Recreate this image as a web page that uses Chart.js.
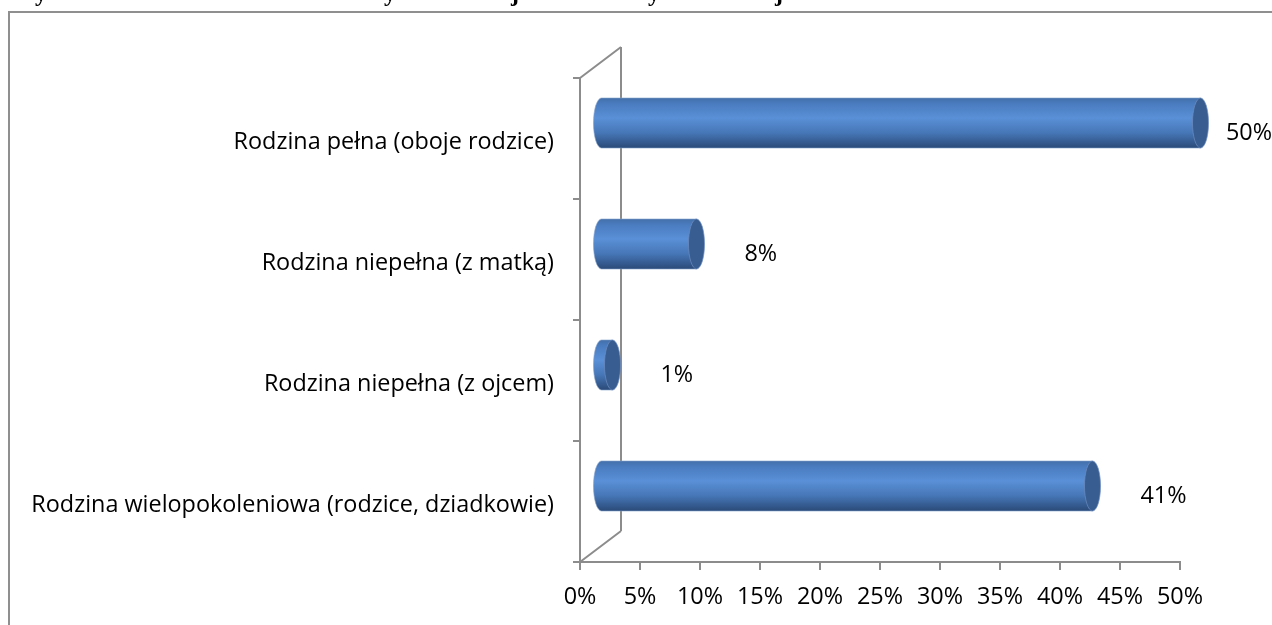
<!DOCTYPE html>
<html>
<head>
<meta charset="utf-8">
<script src="https://cdn.jsdelivr.net/npm/chart.js@4"></script>
<style>
	html, body { margin: 0; padding: 0; background: #fff; overflow: hidden; }
	#wrap { position: relative; width: 1272px; height: 625px; }
	#frame { position: absolute; left: 8px; top: 11px; width: 1300px; height: 700px;
		border-left: 2px solid #8f8f8f; border-top: 2px solid #8f8f8f; pointer-events: none; }
	#cutTitle { position: absolute; left: 0; top: 0; width: 1272px; height: 7px; overflow: hidden; }
	#cutTitle span { position: absolute; top: -20px; font: bold 24px "Liberation Serif", serif; color: #000; }
</style>
</head>
<body>
<div id="wrap">
	<div id="cutTitle">
		<span style="left:35px">y</span>
		<span style="left:384px">y</span>
		<span style="left:511px">j</span>
		<span style="left:648px">y</span>
		<span style="left:775px">j</span>
	</div>
	<canvas id="chart" width="1272" height="625"></canvas>
	<div id="frame"></div>
</div>
<script>
const categories = [
	"Rodzina pełna (oboje rodzice)",
	"Rodzina niepełna (z matką)",
	"Rodzina niepełna (z ojcem)",
	"Rodzina wielopokoleniowa (rodzice, dziadkowie)",
];
const shares = [50, 8, 1, 41];
const xMin = 0;
const xMax = 50;
const xStep = 5;

const FONT = "Open Sans";
const FONT_SIZE = 23.4;
const AXIS_GREY = "#8c8c8c";
// 3D depth of the wall and bars
const DEPTH_X = 41;
const DEPTH_Y = -31;

const framePlugin = {
	id: "frame3d",
	beforeDatasetsDraw(chart) {
		const { ctx, chartArea } = chart;
		const { left, top, bottom } = chartArea;
		ctx.save();
		ctx.strokeStyle = AXIS_GREY;
		ctx.lineWidth = 2;
		ctx.beginPath();
		ctx.moveTo(left, top);
		ctx.lineTo(left, bottom);
		ctx.moveTo(left + DEPTH_X, top + DEPTH_Y);
		ctx.lineTo(left + DEPTH_X, bottom + DEPTH_Y);
		ctx.moveTo(left, top);
		ctx.lineTo(left + DEPTH_X, top + DEPTH_Y);
		ctx.moveTo(left, bottom);
		ctx.lineTo(left + DEPTH_X, bottom + DEPTH_Y);
		// category separators on the left axis
		const n = categories.length;
		for (let i = 0; i <= n; i++) {
			const y = top + (bottom - top) * i / n;
			ctx.moveTo(left - 7, y);
			ctx.lineTo(left, y);
		}
		ctx.stroke();
		ctx.restore();
	},
	afterDatasetsDraw(chart) {
		const { ctx } = chart;
		const meta = chart.getDatasetMeta(0);
		const dx = DEPTH_X / 2;
		const dy = DEPTH_Y / 2;
		meta.data.forEach((bar, i) => {
			const p = bar.getProps(["x", "y", "base", "height"], true);
			const x0 = p.base + dx;
			const x1 = p.x + dx;
			const cy = p.y + dy;
			const ry = p.height / 2;
			const rx = 8;

			const grad = ctx.createLinearGradient(0, cy - ry, 0, cy + ry);
			grad.addColorStop(0, "#4470aa");
			grad.addColorStop(0.12, "#4a7cc0");
			grad.addColorStop(0.4, "#5a90d7");
			grad.addColorStop(0.7, "#4676b6");
			grad.addColorStop(1, "#2a4a78");

			ctx.save();
			ctx.beginPath();
			ctx.moveTo(x0, cy - ry);
			ctx.lineTo(x1, cy - ry);
			ctx.lineTo(x1, cy + ry);
			ctx.lineTo(x0, cy + ry);
			ctx.ellipse(x0, cy, rx, ry, 0, Math.PI / 2, Math.PI * 1.5);
			ctx.closePath();
			ctx.fillStyle = grad;
			ctx.fill();
			ctx.strokeStyle = "rgba(130,160,205,0.6)";
			ctx.lineWidth = 1;
			ctx.stroke();

			// end cap
			ctx.beginPath();
			ctx.ellipse(x1, cy, rx, ry, 0, 0, Math.PI * 2);
			ctx.fillStyle = "#385d90";
			ctx.fill();
			ctx.strokeStyle = "rgba(110,140,190,0.7)";
			ctx.stroke();

			// value label
			const txt = shares[i] + "%";
			ctx.font = FONT_SIZE + "px '" + FONT + "'";
			ctx.fillStyle = "#000";
			ctx.textBaseline = "middle";
			ctx.textAlign = "left";
			const w = ctx.measureText(txt).width;
			let lx = x1 + 48;
			if (lx + w > chart.width) lx = chart.width - w;
			ctx.fillText(txt, lx, cy + 10);
			ctx.restore();
		});
	},
};

new Chart(document.getElementById("chart").getContext("2d"), {
	type: "bar",
	data: {
		labels: categories,
		datasets: [
			{
				data: shares,
				backgroundColor: "rgba(0,0,0,0)",
				borderWidth: 0,
				barThickness: 50,
			},
		],
	},
	plugins: [framePlugin],
	options: {
		indexAxis: "y",
		responsive: false,
		animation: false,
		layout: { padding: { left: 0, top: 78, right: 92, bottom: 0 } },
		plugins: {
			legend: { display: false },
			tooltip: { enabled: false },
		},
		scales: {
			x: {
				min: xMin,
				max: xMax,
				ticks: {
					stepSize: xStep,
					callback: (v) => v + "%",
					font: { family: FONT, size: FONT_SIZE },
					color: "#000",
					padding: 13,
					maxRotation: 0,
					autoSkip: false,
				},
				grid: {
					drawOnChartArea: false,
					drawTicks: true,
					tickLength: 8,
					color: AXIS_GREY,
					lineWidth: 2,
				},
				border: { display: true, color: AXIS_GREY, width: 2 },
				afterFit: (scale) => { scale.height = 63; },
			},
			y: {
				ticks: {
					font: { family: FONT, size: FONT_SIZE },
					color: "#000",
					padding: 26,
					labelOffset: 4,
				},
				grid: { display: false, drawTicks: false },
				border: { display: false },
				afterFit: (scale) => { scale.width = 580; },
			},
		},
	},
});
</script>
</body>
</html>
